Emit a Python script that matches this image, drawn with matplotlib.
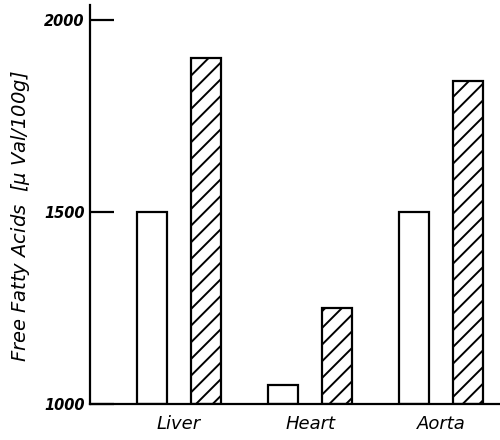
import numpy as np
import matplotlib
matplotlib.use("Agg")
import matplotlib.pyplot as plt

organs = ["Liver", "Heart", "Aorta"]
control = [1500, 1050, 1500]
treated = [1900, 1250, 1840]
yticks = [1000, 1500, 2000]

plt.rcParams['hatch.linewidth'] = 1.4

fig = plt.figure(figsize=(5, 4.4), dpi=100)
ax = fig.add_axes([0.18, 0.082, 0.82, 0.907])

x = np.arange(len(organs))
w = 0.23
ax.bar(x - 0.205, np.array(control) - 1000, w, bottom=1000,
       facecolor='white', edgecolor='black', linewidth=1.6)
ax.bar(x + 0.205, np.array(treated) - 1000, w, bottom=1000,
       facecolor='white', edgecolor='black', linewidth=1.6, hatch='//')

ax.set_xlim(-0.68, 2.45)
ax.set_ylim(1000, 2039)

ax.spines['top'].set_visible(False)
ax.spines['right'].set_visible(False)
ax.spines['left'].set_linewidth(1.6)
ax.spines['bottom'].set_linewidth(1.6)

ax.set_yticks(yticks)
ax.set_yticklabels([str(v) for v in yticks], fontsize=10.5,
                   fontweight='bold', style='italic')
ax.tick_params(axis='y', direction='in', length=17, width=1.6, pad=4)

ax.set_xticks(x)
ax.set_xticklabels(organs, fontsize=13, style='italic')
ax.tick_params(axis='x', length=0, pad=8)

# label with bracketed unit, like the original
ax.set_ylabel(r"Free Fatty Acids  [$\mu$ Val/100g]", fontsize=14,
              style='italic')
ax.yaxis.set_label_coords(-0.142, 0.47)

fig.savefig("out.png", dpi=100)
